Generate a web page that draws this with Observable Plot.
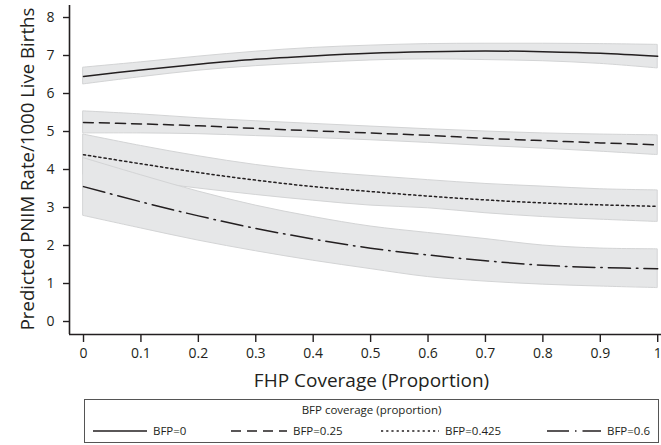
<!DOCTYPE html>
<html>
<head>
<meta charset="utf-8">
<script src="https://cdn.jsdelivr.net/npm/d3@7"></script>
<script src="https://cdn.jsdelivr.net/npm/@observablehq/plot@0.6"></script>
<style>
  body { margin: 0; background: #fff; font-family: "Open Sans", sans-serif; color: #231f20; }
  #wrap { position: relative; width: 661px; height: 445px; overflow: hidden; }
  #legend { position: absolute; left: 84px; top: 399px; width: 575px; height: 44px; border: 1px solid #555; box-sizing: border-box; font-size: 11.5px; }
  #legend .title { position: absolute; top: 2px; left: 0; width: 100%; text-align: center; }
  #legend .item { position: absolute; top: 23px; display: flex; align-items: center; }
  #legend svg { display: block; }
</style>
</head>
<body>
<div id="wrap">
  <div id="chart"></div>
  <div id="legend"></div>
</div>
<script>
const xs = [0, 0.1, 0.2, 0.3, 0.4, 0.5, 0.6, 0.7, 0.8, 0.9, 1.0];
const seriesNames = ["BFP=0", "BFP=0.25", "BFP=0.425", "BFP=0.6"];
const legendTitle = "BFP coverage (proportion)";

const bfp0    = [6.45, 6.62, 6.77, 6.90, 6.99, 7.06, 7.10, 7.12, 7.10, 7.06, 6.98];
const bfp0Hi  = [6.68, 6.82, 6.97, 7.10, 7.20, 7.26, 7.30, 7.31, 7.31, 7.30, 7.28];
const bfp0Lo  = [6.24, 6.43, 6.60, 6.72, 6.80, 6.87, 6.90, 6.88, 6.85, 6.78, 6.66];

const bfp25   = [5.24, 5.20, 5.15, 5.08, 5.02, 4.96, 4.90, 4.82, 4.76, 4.70, 4.65];
const bfp25Hi = [5.53, 5.45, 5.35, 5.27, 5.20, 5.13, 5.06, 5.00, 4.95, 4.92, 4.90];
const bfp25Lo = [4.95, 4.95, 4.93, 4.88, 4.83, 4.77, 4.70, 4.62, 4.55, 4.47, 4.38];

const bfp425   = [4.39, 4.15, 3.92, 3.72, 3.55, 3.42, 3.30, 3.20, 3.12, 3.07, 3.03];
const bfp425Hi = [4.92, 4.62, 4.35, 4.12, 3.95, 3.83, 3.72, 3.62, 3.55, 3.48, 3.45];
const bfp425Lo = [3.86, 3.68, 3.50, 3.33, 3.18, 3.05, 2.98, 2.85, 2.75, 2.68, 2.62];

const bfp6   = [3.55, 3.15, 2.78, 2.45, 2.17, 1.93, 1.75, 1.60, 1.48, 1.42, 1.39];
const bfp6Hi = [4.30, 3.85, 3.42, 3.05, 2.75, 2.50, 2.33, 2.17, 2.00, 1.92, 1.90];
const bfp6Lo = [2.78, 2.45, 2.13, 1.85, 1.60, 1.38, 1.17, 1.05, 0.97, 0.92, 0.88];

const yTicks = [0, 1, 2, 3, 4, 5, 6, 7, 8];
const xTicks = [0, 0.1, 0.2, 0.3, 0.4, 0.5, 0.6, 0.7, 0.8, 0.9, 1];
const yTitle = "Predicted PNIM Rate/1000 Live Births";
const xTitle = "FHP Coverage (Proportion)";

const mid = [bfp0, bfp25, bfp425, bfp6];
const hi = [bfp0Hi, bfp25Hi, bfp425Hi, bfp6Hi];
const lo = [bfp0Lo, bfp25Lo, bfp425Lo, bfp6Lo];
const dashes = [null, "10,6", "2.2,3", "22,6,1.5,6"];

const rows = seriesNames.map((s, i) => xs.map((x, j) => ({series: s, x, y: mid[i][j], lo: lo[i][j], hi: hi[i][j]})));

const xDomain = [-0.0244, 1.0066];
const yDomain = [-0.342, 8.316];
const ink = "#231f20";

const marks = [];
rows.forEach((r) => {
  marks.push(Plot.areaY(r, {x: "x", y1: "lo", y2: "hi", fill: "#e6e7e8", stroke: "#d3d4d5", strokeWidth: 1, curve: "catmull-rom"}));
});
rows.forEach((r, i) => {
  marks.push(Plot.lineY(r, {x: "x", y: "y", stroke: ink, strokeWidth: 1.5, strokeDasharray: dashes[i], curve: "catmull-rom"}));
});
marks.push(Plot.ruleX([xDomain[0]], {stroke: ink, strokeWidth: 1.6}));
marks.push(Plot.ruleY([yDomain[0]], {stroke: ink, strokeWidth: 1.6}));
marks.push(Plot.axisY(yTicks, {tickSize: 6, tickPadding: 9, fontSize: 14, stroke: ink, fill: ink, strokeWidth: 1.4, label: null}));
marks.push(Plot.axisX(xTicks, {tickSize: 8, tickPadding: 6, fontSize: 14, stroke: ink, fill: ink, strokeWidth: 1.4,
  tickFormat: d => String(d), label: null}));
marks.push(Plot.text([xTitle], {frameAnchor: "bottom", dy: 52, dx: 6, fontSize: 19, fill: ink, lineAnchor: "bottom"}));
marks.push(Plot.text([yTitle], {frameAnchor: "left", textAnchor: "middle", rotate: -90, dx: -41, dy: -1, fontSize: 18.6, fill: ink}));

const chart = Plot.plot({
  width: 661,
  height: 395,
  marginLeft: 69,
  marginRight: 0,
  marginTop: 5,
  marginBottom: 61,
  style: {fontFamily: "'Open Sans', sans-serif", fontSize: "14px", color: ink, background: "#fff", overflow: "visible"},
  x: {domain: xDomain},
  y: {domain: yDomain},
  marks
});
document.getElementById("chart").appendChild(chart);

// legend
const legend = document.getElementById("legend");
const t = document.createElement("div");
t.className = "title";
t.textContent = legendTitle;
legend.appendChild(t);
const itemX = [8, 146, 296, 462];
const lineW = [54, 56, 58, 54];
seriesNames.forEach((s, i) => {
  const d = document.createElement("div");
  d.className = "item";
  d.style.left = itemX[i] + "px";
  const svg = d3.create("svg").attr("width", lineW[i] + 6).attr("height", 8);
  svg.append("line").attr("x1", 0).attr("x2", lineW[i]).attr("y1", 4).attr("y2", 4)
    .attr("stroke", ink).attr("stroke-width", 1.5).attr("stroke-dasharray", dashes[i]);
  d.appendChild(svg.node());
  const lab = document.createElement("span");
  lab.textContent = s;
  d.appendChild(lab);
  legend.appendChild(d);
});
</script>
</body>
</html>
